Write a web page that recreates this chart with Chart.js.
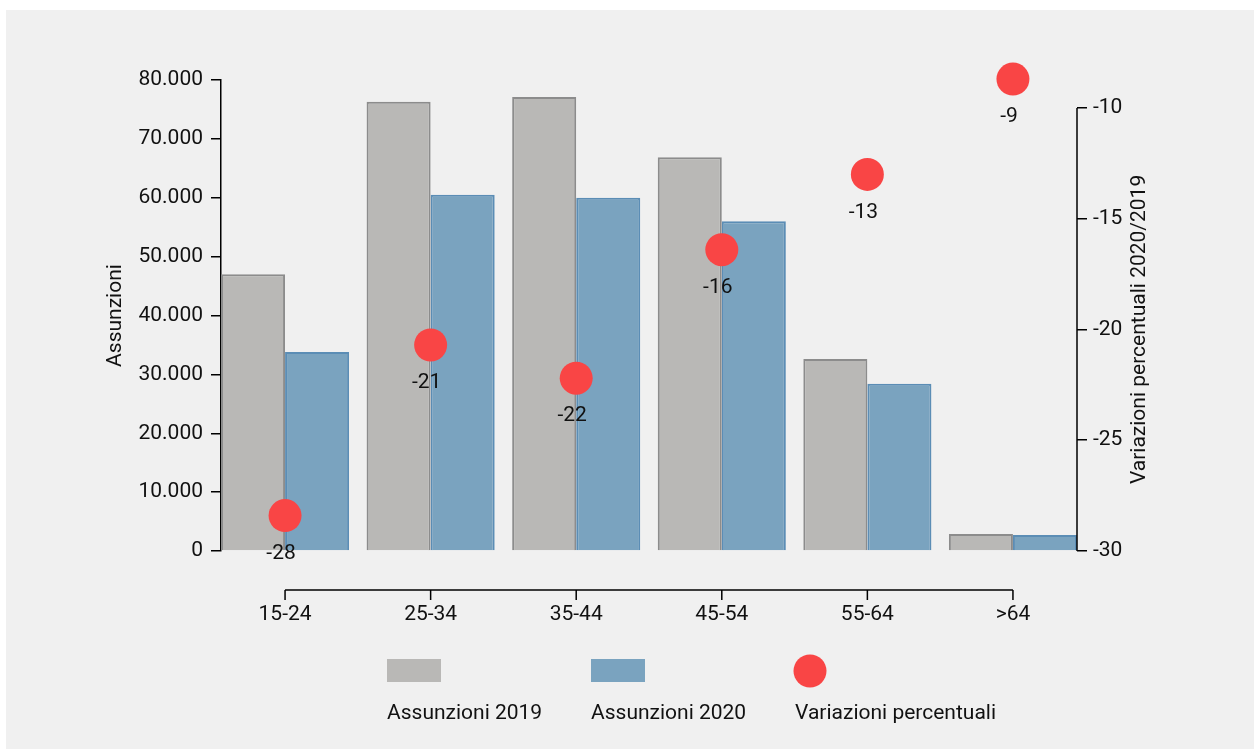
<!DOCTYPE html>
<html>
<head>
<meta charset="utf-8">
<script src="https://cdn.jsdelivr.net/npm/chart.js@4"></script>
<style>
  body { margin: 0; background: #ffffff; }
  #wrap { width: 1254px; height: 749px; position: relative; }
</style>
</head>
<body>
<div id="wrap"><canvas id="chartCanvas"></canvas></div>
<script>
// data
const ageGroups = ['15-24', '25-34', '35-44', '45-54', '55-64', '>64'];
const hires2019 = [47000, 76300, 77100, 66900, 32600, 2900];
const hires2020 = [33800, 60500, 60000, 56000, 28400, 2700];
const changePct = [-28.4, -20.7, -22.2, -16.4, -13.0, -8.7];
const changeLabels = ['-28', '-21', '-22', '-16', '-13', '-9'];
const leftTicks = [0, 10000, 20000, 30000, 40000, 50000, 60000, 70000, 80000];
const rightTicks = [-30, -25, -20, -15, -10];

const FONT = 'Roboto, "Noto Sans", sans-serif';
const FSIZE = 21;
const GRAY = '#b9b8b6', GRAY_BORDER = '#8c8c8c';
const BLUE = '#7aa3bf', BLUE_BORDER = '#5b8db5';
const RED = '#f94545';

function fmtThousands(v) {
  return String(v).replace(/\B(?=(\d{3})+(?!\d))/g, '.');
}

// background, custom x axis, right axis line, point labels, titles, legend
const decorations = {
  id: 'decorations',
  beforeDraw(chart) {
    const ctx = chart.ctx;
    ctx.save();
    ctx.fillStyle = '#f0f0f0';
    ctx.fillRect(6, 10, chart.width - 6, chart.height - 10);
    ctx.restore();
  },
  afterDraw(chart) {
    const ctx = chart.ctx;
    const x = chart.scales.x, y1 = chart.scales.y1;
    const area = chart.chartArea;
    ctx.save();
    ctx.strokeStyle = '#000';
    ctx.lineWidth = 1.5;

    // right axis line only between -30 and -10
    ctx.beginPath();
    ctx.moveTo(area.right, y1.getPixelForValue(-10));
    ctx.lineTo(area.right, y1.getPixelForValue(-30));
    ctx.stroke();

    // detached x axis
    const axY = area.bottom + 39;
    ctx.beginPath();
    ctx.moveTo(x.getPixelForValue(0), axY);
    ctx.lineTo(x.getPixelForValue(ageGroups.length - 1), axY);
    ageGroups.forEach((g, i) => {
      const px = x.getPixelForValue(i);
      ctx.moveTo(px, axY);
      ctx.lineTo(px, axY + 10);
    });
    ctx.stroke();

    // labels under the red points
    ctx.fillStyle = '#111';
    ctx.font = FSIZE + 'px ' + FONT;
    ctx.textAlign = 'center';
    ctx.textBaseline = 'middle';
    changePct.forEach((v, i) => {
      ctx.fillText(changeLabels[i], x.getPixelForValue(i) - 4, y1.getPixelForValue(v) + 38);
    });

    // axis titles
    ctx.save();
    ctx.translate(116, (area.top + area.bottom) / 2);
    ctx.rotate(-Math.PI / 2);
    ctx.fillText('Assunzioni', 0, 0);
    ctx.restore();
    ctx.save();
    ctx.translate(1140, (y1.getPixelForValue(-10) + area.bottom) / 2);
    ctx.rotate(-Math.PI / 2);
    ctx.fillText('Variazioni percentuali 2020/2019', 0, 0);
    ctx.restore();

    // legend: symbol above, text below
    const items = chart.data.datasets;
    const lx = [387, 591, 795];
    ctx.textAlign = 'left';
    items.forEach((ds, i) => {
      ctx.fillStyle = ds.backgroundColor;
      if (ds.type === 'scatter') {
        ctx.beginPath();
        ctx.arc(lx[i] + 15, 671, 16.5, 0, Math.PI * 2);
        ctx.fill();
      } else {
        ctx.fillRect(lx[i], 659, 54, 23);
      }
      ctx.fillStyle = '#111';
      ctx.fillText(ds.label, lx[i], 714);
    });
    ctx.restore();
  }
};

new Chart(document.getElementById('chartCanvas'), {
  type: 'bar',
  data: {
    datasets: [
      {
        label: 'Assunzioni 2019',
        data: hires2019.map((v, i) => ({ x: i, y: v })),
        backgroundColor: GRAY,
        borderColor: GRAY_BORDER,
        borderWidth: 2,
        yAxisID: 'y',
        order: 2
      },
      {
        label: 'Assunzioni 2020',
        data: hires2020.map((v, i) => ({ x: i, y: v })),
        backgroundColor: BLUE,
        borderColor: BLUE_BORDER,
        borderWidth: 2,
        yAxisID: 'y',
        order: 2
      },
      {
        type: 'scatter',
        label: 'Variazioni percentuali',
        data: changePct.map((v, i) => ({ x: i, y: v })),
        backgroundColor: RED,
        borderWidth: 0,
        pointRadius: 16.5,
        pointHoverRadius: 16.5,
        clip: false,
        yAxisID: 'y1',
        order: 1
      }
    ]
  },
  options: {
    responsive: true,
    maintainAspectRatio: false,
    animation: false,
    layout: { padding: { top: 80, left: 0, right: 0, bottom: 0 } },
    datasets: { bar: { barPercentage: 1, categoryPercentage: 0.88 } },
    plugins: { legend: { display: false }, tooltip: { enabled: false } },
    scales: {
      x: {
        type: 'linear',
        offset: false,
        min: -0.44,
        max: 5.44,
        afterBuildTicks: (s) => { s.ticks = ageGroups.map((g, i) => ({ value: i })); },
        afterFit: (s) => { s.height = 198; },
        grid: { display: false, drawTicks: false },
        border: { display: false },
        ticks: {
          padding: 51,
          autoSkip: false,
          maxRotation: 0,
          color: '#111',
          font: { family: FONT, size: FSIZE },
          callback: (v) => ageGroups[v]
        }
      },
      y: {
        position: 'left',
        min: 0,
        max: 80000,
        afterBuildTicks: (s) => { s.ticks = leftTicks.map(v => ({ value: v })); },
        afterFit: (s) => { s.width = 221; },
        grid: { drawOnChartArea: false, drawTicks: true, tickLength: 10, color: '#000', lineWidth: 1.5 },
        border: { display: true, color: '#000', width: 1.5 },
        ticks: {
          padding: 8,
          color: '#111',
          font: { family: FONT, size: FSIZE },
          callback: (v) => fmtThousands(v)
        }
      },
      y1: {
        position: 'right',
        min: -30,
        max: -8.74,
        afterBuildTicks: (s) => { s.ticks = rightTicks.map(v => ({ value: v })); },
        afterFit: (s) => { s.width = 177; },
        grid: { drawOnChartArea: false, drawTicks: true, tickLength: 10, color: '#000', lineWidth: 1.5 },
        border: { display: false },
        ticks: {
          padding: 6,
          color: '#111',
          font: { family: FONT, size: FSIZE }
        }
      }
    }
  },
  plugins: [decorations]
});
</script>
</body>
</html>
